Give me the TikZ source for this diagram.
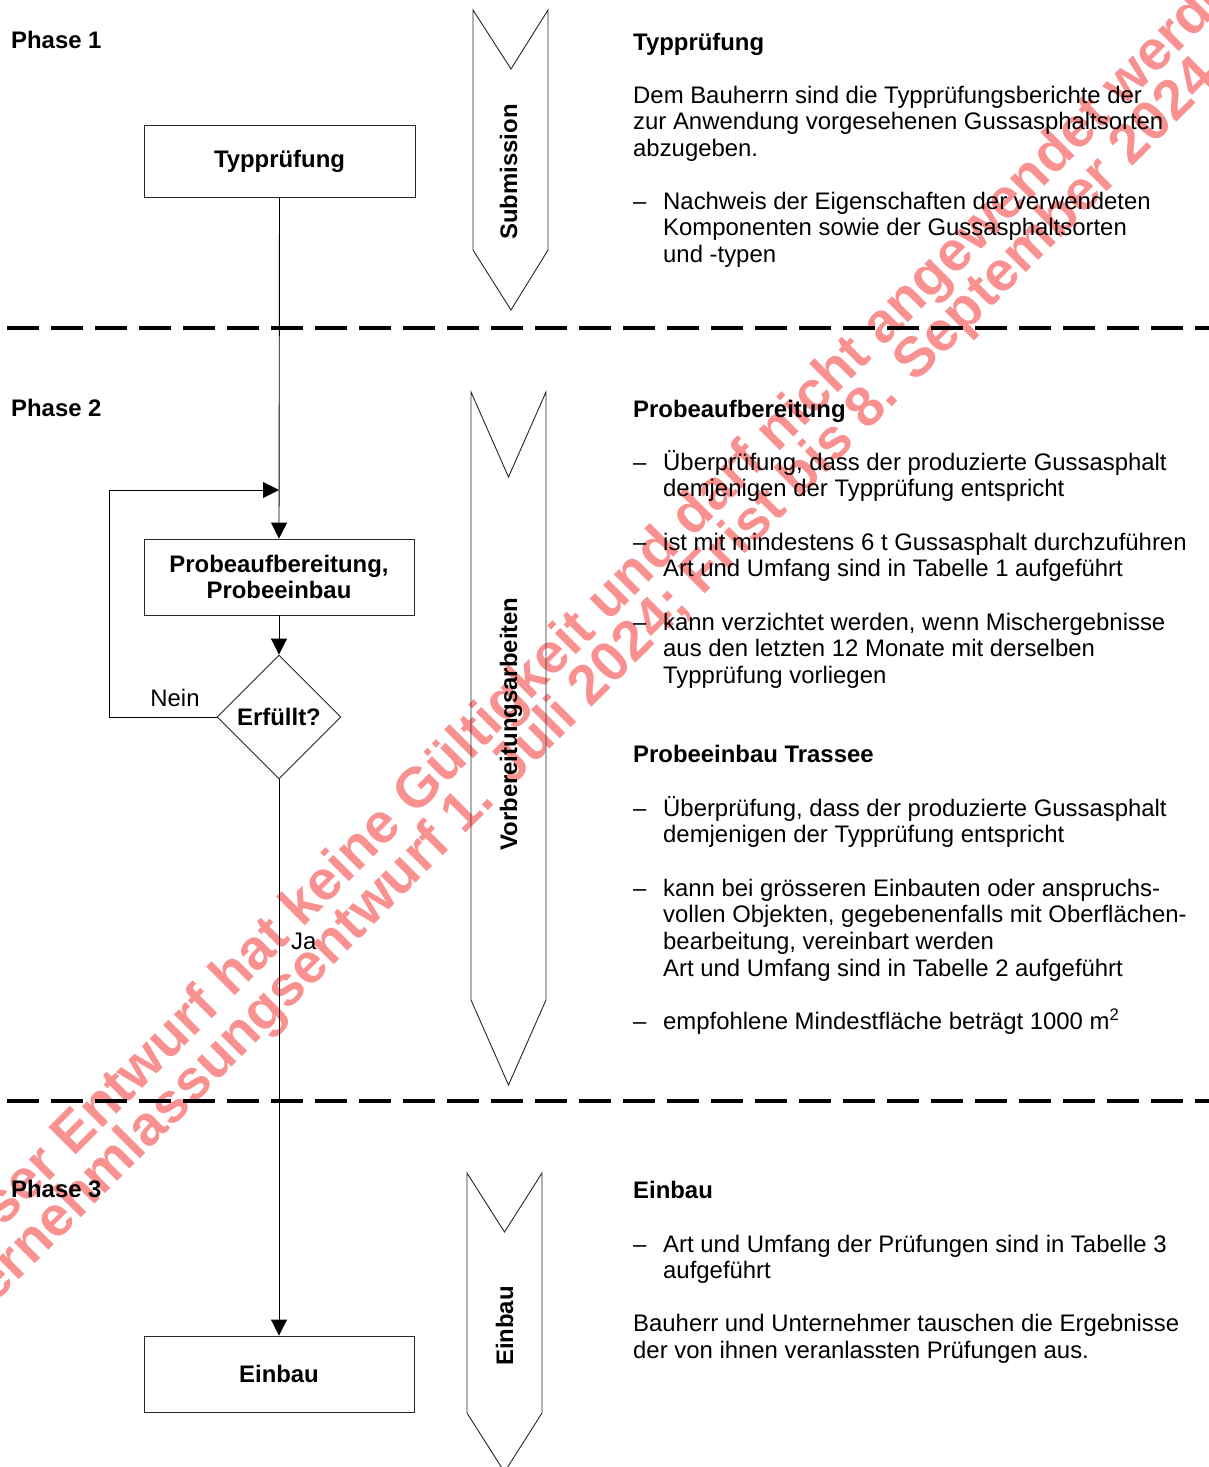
\documentclass[tikz,border=0pt]{standalone}
\usepackage{fontspec}
\setmainfont{Liberation Sans}
\usetikzlibrary{arrows.meta,shapes.geometric}
\definecolor{wmred}{RGB}{250,145,145}
\begin{document}
\begin{tikzpicture}[x=1pt,y=-1pt,
  tx/.style={anchor=base west,inner sep=0pt,font=\fontsize{23.9}{26.7}\selectfont},
  hd/.style={anchor=base west,inner sep=0pt,font=\fontsize{23.9}{26.7}\selectfont\bfseries},
  box/.style={draw=black!85,line width=0.9pt,minimum width=270pt,minimum height=76pt,inner sep=0pt,
    font=\fontsize{23.9}{26.7}\selectfont\bfseries,align=center},
  dia/.style={draw=black!85,line width=0.9pt,diamond,aspect=1,minimum width=124pt,minimum height=124pt,
    inner sep=0pt,font=\fontsize{23.9}{26.7}\selectfont\bfseries},
  arr/.style={-{Triangle[length=16pt,width=16pt]},line width=0.9pt},
  chev/.style={draw=black!85,line width=0.9pt},
  chevlabel/.style={rotate=90,anchor=base,inner sep=0pt,font=\fontsize{23.9}{26.7}\selectfont\bfseries},
  phaseline/.style={line width=4pt,dash pattern=on 32pt off 12pt},
  wm/.style={rotate=45,anchor=base,inner sep=0pt,text=wmred,font=\fontsize{56}{60}\selectfont\bfseries}
]
\useasboundingbox (0,0) rectangle (1209,1467);

% watermark (behind everything)
\node[wm] (wm1) at (602,629) {Dieser Entwurf hat keine Gültigkeit und darf nicht angewendet werden};
\node[wm] (wm2) at (595,704) {Vernehmlassungsentwurf 1. Juli 2024; Frist bis 8. September 2024};

% phase separators
\coordinate (s1a) at (7,328); \coordinate (s1b) at (1209,328);
\coordinate (s2a) at (7,1101); \coordinate (s2b) at (1209,1101);
\draw[phaseline] (s1a) -- (s1b);
\draw[phaseline] (s2a) -- (s2b);

% phase labels
\node[hd] (ph1) at (11,48) {Phase 1};
\node[hd] (ph2) at (11,416) {Phase 2};
\node[hd] (ph3) at (11,1197) {Phase 3};

% flow chart
\node[box,minimum width=271pt,minimum height=72pt] (typ) at (279.5,161) {Typprüfung};
\node[box] (probe) at (279,577) {Probeaufbereitung,\\Probeeinbau};
\node[dia] (erf) at (279,717) {Erfüllt?};
\node[box] (einb) at (279,1374) {Einbau};
\coordinate (loopleft) at (109,490);
\coordinate (loopend) at (279,490);

\draw[arr] (typ.south) -- (probe.north);
\draw[arr] (probe.south) -- (erf.north);
\draw[arr] (erf.south) -- (einb.north);
\draw[arr] (erf.west) -| (loopleft) -- (loopend);

\node[tx,anchor=base] (nein) at (175,706) {Nein};
\node[tx] (ja) at (291,949) {Ja};

% chevrons
\draw[chev] (473,10) -- (511,69) -- (548,10) -- (548,250) -- (511,310) -- (473,250) -- cycle;
\draw[chev] (471,392) -- (508.5,477) -- (546,392) -- (546,1000) -- (508.5,1085) -- (471,1000) -- cycle;
\draw[chev] (467,1173) -- (504.5,1232) -- (542,1173) -- (542,1413) -- (504.5,1472) -- (467,1413) -- cycle;
\node[chevlabel] (cl1) at (517,172) {Submission};
\node[chevlabel] (cl2) at (517,724) {Vorbereitungsarbeiten};
\node[chevlabel] (cl3) at (513,1326) {Einbau};

% right column texts
\node[hd] (h1) at (633,50) {Typprüfung};
\node[tx] (p1a) at (633,103) {Dem Bauherrn sind die Typprüfungsberichte der};
\node[tx] (p1b) at (633,129.7) {zur Anwendung vorgesehenen Gussasphaltsorten};
\node[tx] (p1c) at (633,156.4) {abzugeben.};
\node[tx] (d1) at (633,209) {–};
\node[tx] (b1a) at (663,209) {Nachweis der Eigenschaften der verwendeten};
\node[tx] (b1b) at (663,235.7) {Komponenten sowie der Gussasphaltsorten};
\node[tx] (b1c) at (663,262.4) {und -typen};

\node[hd] (h2) at (633,417) {Probeaufbereitung};
\node[tx] (d2) at (633,470) {–};
\node[tx] (b2a) at (663,470) {Überprüfung, dass der produzierte Gussasphalt};
\node[tx] (b2b) at (663,496.7) {demjenigen der Typprüfung entspricht};
\node[tx] (d3) at (633,550) {–};
\node[tx] (b3a) at (663,550) {ist mit mindestens 6 t Gussasphalt durchzuführen};
\node[tx] (b3b) at (663,576.7) {Art und Umfang sind in Tabelle 1 aufgeführt};
\node[tx] (d4) at (633,630) {–};
\node[tx] (b4a) at (663,630) {kann verzichtet werden, wenn Mischergebnisse};
\node[tx] (b4b) at (663,656.7) {aus den letzten 12 Monate mit derselben};
\node[tx] (b4c) at (663,683.4) {Typprüfung vorliegen};

\node[hd] (h3) at (633,762) {Probeeinbau Trassee};
\node[tx] (d5) at (633,816) {–};
\node[tx] (b5a) at (663,816) {Überprüfung, dass der produzierte Gussasphalt};
\node[tx] (b5b) at (663,842.7) {demjenigen der Typprüfung entspricht};
\node[tx] (d6) at (633,896) {–};
\node[tx] (b6a) at (663,896) {kann bei grösseren Einbauten oder anspruchs-};
\node[tx] (b6b) at (663,922.7) {vollen Objekten, gegebenenfalls mit Oberflächen-};
\node[tx] (b6c) at (663,949.4) {bearbeitung, vereinbart werden};
\node[tx] (b6d) at (663,976.1) {Art und Umfang sind in Tabelle 2 aufgeführt};
\node[tx] (d7) at (633,1029.5) {–};
\node[tx] (b7) at (663,1029.5) {empfohlene Mindestfläche beträgt 1000 m\textsuperscript{2}};

\node[hd] (h4) at (633,1198) {Einbau};
\node[tx] (d8) at (633,1252) {–};
\node[tx] (b8a) at (663,1252) {Art und Umfang der Prüfungen sind in Tabelle 3};
\node[tx] (b8b) at (663,1278.7) {aufgeführt};
\node[tx] (p4a) at (633,1331) {Bauherr und Unternehmer tauschen die Ergebnisse};
\node[tx] (p4b) at (633,1358) {der von ihnen veranlassten Prüfungen aus.};
\end{tikzpicture}
\end{document}
